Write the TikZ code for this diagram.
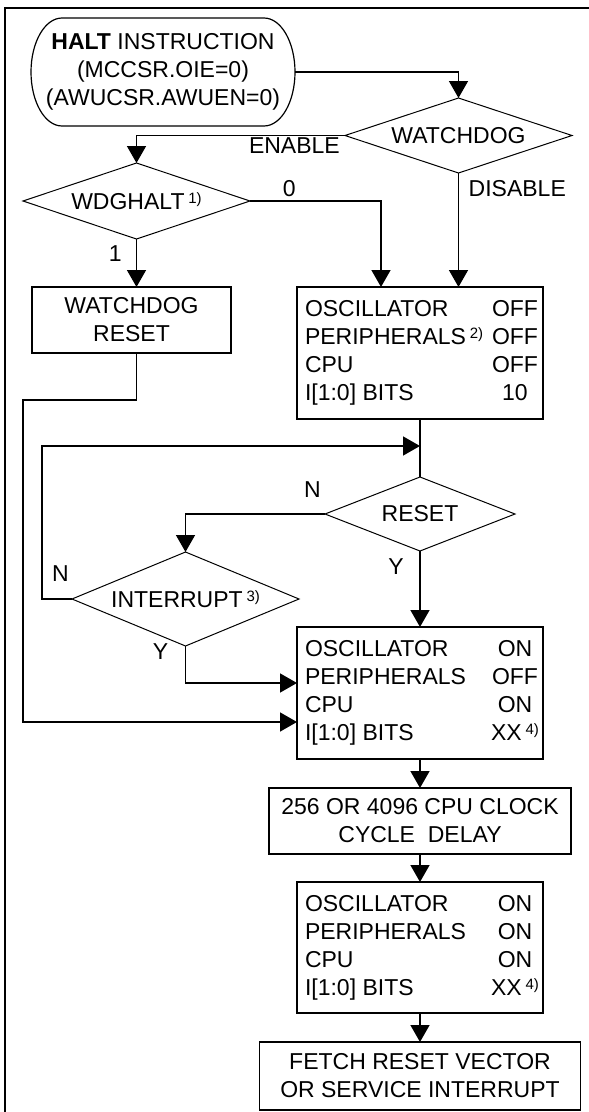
\documentclass[tikz,border=0pt]{standalone}
\usepackage{fontspec}
\setmainfont{Liberation Sans}
\usepackage{array}
\usetikzlibrary{arrows.meta,positioning,shapes.geometric,calc}
\newcommand{\fnote}[1]{{\fontsize{15pt}{15pt}\selectfont\raisebox{6pt}{#1}}}
\newcommand{\statelist}[5]{%
	\begin{tabular}{@{}p{190pt}@{}w{c}{40pt}@{}}
		OSCILLATOR & #1\\
		PERIPHERALS#5 & #2\\
		CPU & #3\\
		I[1:0] BITS & #4
\end{tabular}}
\tikzset{
	>=Triangle,
	conn/.style={
		-{Triangle[length=17pt,width=19pt]},
		line width=1.6pt
	},
	link/.style={
		line width=1.6pt
	},
	stepbox/.style={
		draw,
		line width=1.6pt,
		inner sep=0pt,
		outer sep=0pt,
		align=center
	},
	decision/.style={
		diamond,
		draw,
		aspect=3,
		line width=1pt,
		inner sep=0pt,
		outer sep=0pt,
		minimum width=227pt,
		minimum height=75pt
	},
	lbl/.style={
		inner sep=0pt
	}
}

\begin{document}
\begin{tikzpicture}[x=1pt,y=-1pt,font=\fontsize{23pt}{28pt}\selectfont]
	\useasboundingbox (0,0) rectangle (589,1112);
	
	% Frame
	\draw[line width=2pt] (5,1112) -- (5,8) -- (589,8);
	
	% Nodes
	\node[inner sep=0pt,outer sep=0pt,minimum width=264pt,minimum height=108pt,align=center] (halt) at (163,72)
	{\textbf{HALT} INSTRUCTION\\(MCCSR.OIE=0)\\(AWUCSR.AWUEN=0)};
	\draw[line width=1.2pt] ([xshift=31pt]halt.north west) -- ([xshift=-31pt]halt.north east)
	arc[start angle=90,end angle=-90,x radius=31pt,y radius=54pt]
	-- ([xshift=31pt]halt.south west)
	arc[start angle=270,end angle=90,x radius=31pt,y radius=54pt] -- cycle;
	
	\node[decision] (wd) at (458.5,135.5) {WATCHDOG};
	\node[decision,minimum height=76pt] (wdg) at (136.5,201) {WDGHALT\,\fnote{1)}};
	\node[stepbox,minimum width=199pt,minimum height=66pt] (wdr) at (131.5,320) {WATCHDOG\\RESET};
	\node[stepbox,minimum width=246pt,minimum height=132pt] (offbox) at (420,353)
	{\statelist{OFF}{OFF}{OFF}{10}{\,\fnote{2)}}};
	\node[decision,minimum width=190pt,minimum height=74pt] (reset) at (420,514) {RESET};
	\node[decision,minimum height=94pt] (int) at (185.5,599) {INTERRUPT\,\fnote{3)}};
	\node[stepbox,minimum width=246pt,minimum height=132pt] (onbox) at (420,693)
	{\statelist{ON}{OFF}{ON}{XX\,\fnote{4)}}{}};
	\node[stepbox,minimum width=302pt,minimum height=66pt] (delay) at (420,821)
	{256 OR 4096 CPU CLOCK\\CYCLE\ \ DELAY};
	\node[stepbox,minimum width=246pt,minimum height=131pt] (runbox) at (420,947.5)
	{\statelist{ON}{ON}{ON}{XX\,\fnote{4)}}{}};
	\node[stepbox,minimum width=321pt,minimum height=68pt] (fetch) at (420,1076)
	{FETCH RESET VECTOR\\OR SERVICE INTERRUPT};
	
	\coordinate (wrturn) at (23,400);
	\coordinate (loopc) at (42,446);
	\coordinate (merge) at (420,446);
	
	% Connections
	\draw[conn] (halt.east) -| (wd.north);
	\draw[conn] (wd.west) -| (wdg.north);
	\draw[conn] (wd.south) -- (wd.south |- offbox.north);
	\draw[conn] (wdg.east) -| node[lbl,pos=0.15,above=3pt] {0} ([xshift=-39pt]offbox.north);
	\draw[conn] (wdg.south) -- node[lbl,pos=0.31,left=14pt] {1} (wdg.south |- wdr.north);
	\draw[conn] (wdg.south |- wdr.south) |- (wrturn) |- ([yshift=-29pt]onbox.west);
	\draw[link] (offbox.south) -- (reset.north);
	\draw[conn] (int.west) -| (loopc) -- (merge);
	\draw[conn] (reset.west) -| (int.north);
	\draw[conn] (reset.south) -- (onbox.north);
	\draw[conn] (int.south) |- ([yshift=10pt]onbox.west);
	\draw[conn] (onbox) -- (delay);
	\draw[conn] (delay) -- (runbox);
	\draw[conn] (runbox) -- (fetch);
	
	% Labels
	\node[lbl,below left=2pt and 5pt of wd.west] {ENABLE};
	\node[lbl,below right=7pt and 10pt of wd.south] {DISABLE};
	\node[lbl,above left=16pt and 4pt of reset.west] {N};
	\node[lbl,below left=7pt and 16pt of reset.south] {Y};
	\node[lbl,above left=17pt and 3pt of int.west] {N};
	\node[lbl,below left=-3pt and 17pt of int.south] {Y};
	
\end{tikzpicture}
\end{document}
